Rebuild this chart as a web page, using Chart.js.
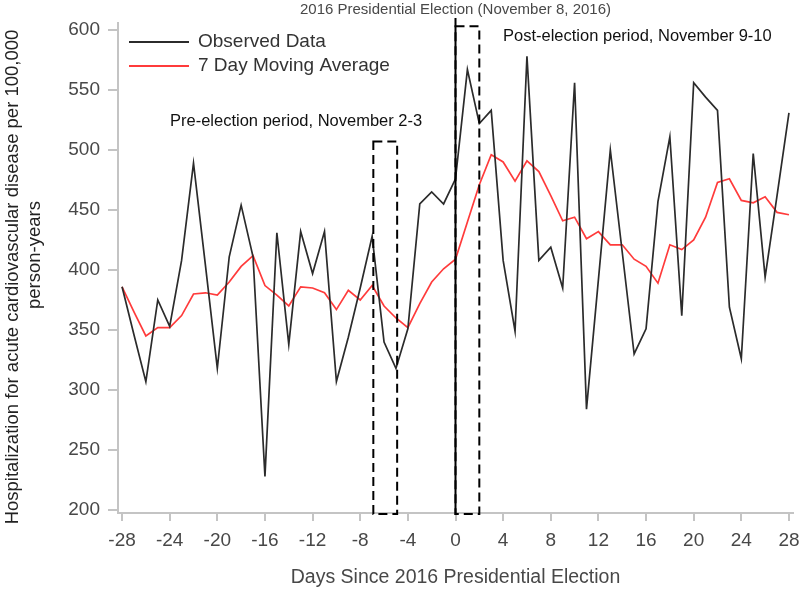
<!DOCTYPE html>
<html lang="en">
<head>
    <meta charset="UTF-8">
    <title>Election Hospitalizations</title>
    <script src="https://cdn.jsdelivr.net/npm/chart.js"></script>
    <style>
        body { margin: 0; background: #fff; }
        .chart-container { width: 800px; height: 590px; }
    </style>
</head>
<body>
    <div class="chart-container">
        <canvas id="electionChart" width="800" height="590"></canvas>
    </div>

<script>
    // data
    const days = [-28, -27, -26, -25, -24, -23, -22, -21, -20, -19, -18, -17, -16, -15, -14, -13, -12, -11, -10, -9,
        -8, -7, -6, -5, -4, -3, -2, -1, 0, 1, 2, 3, 4, 5, 6, 7, 8, 9, 10, 11, 12, 13, 14, 15, 16, 17, 18, 19, 20,
        21, 22, 23, 24, 25, 26, 27, 28];
    const observed = [386, 346, 307, 375, 353, 408, 489, 404, 318, 411, 454, 411, 228, 431, 338, 432, 397, 432, 307, 344,
        385, 428, 340, 318, 351, 455, 465, 455, 476, 567, 522, 533, 408, 349, 578, 408, 419, 385, 556, 284, 392, 500, 415, 330, 351, 457, 511, 362, 556,
        544, 533, 369, 326, 497, 394, 462, 531];
    const movingAvg = [386, 365, 345, 352, 352, 362, 380, 381, 379, 390, 403, 412, 387, 379, 370, 386, 385, 381, 367, 383,
        375, 387, 370, 360, 352, 372, 390, 401, 409, 440, 471, 496, 490, 474, 491, 482, 462, 441, 444, 426, 432, 421, 421, 409, 403, 389, 421, 417, 425,
        444, 473, 476, 458, 456, 461, 448, 446];

    const xTickValues = [-28, -24, -20, -16, -12, -8, -4, 0, 4, 8, 12, 16, 20, 24, 28];
    const yTickValues = [200, 250, 300, 350, 400, 450, 500, 550, 600];

    const seriesLabels = ['Observed Data', '7 Day Moving Average'];
    const seriesColors = ['#2b2b2b', '#ff3b3b'];

    const titleText = '2016 Presidential Election (November 8, 2016)';
    const xTitle = 'Days Since 2016 Presidential Election';
    const yTitle = ['Hospitalization for acute cardiovascular disease per 100,000', 'person-years'];
    const preText = 'Pre-election period, November 2-3';
    const postText = 'Post-election period, November 9-10';

    const FONT = '"Liberation Sans", Arial, sans-serif';
    const AXIS_GREY = '#c4c4c4';
    const TEXT_GREY = '#484848';

    function toPoints(values) {
        return days.map((d, i) => ({ x: d, y: values[i] }));
    }

    // vertical election line, dashed boxes, legend and titles
    const annotations = {
        id: 'annotations',
        afterDraw(chart) {
            const ctx = chart.ctx;
            const xs = chart.scales.x;
            const ys = chart.scales.y;
            const area = chart.chartArea;
            ctx.save();

            // dashed boxes
            ctx.strokeStyle = '#000';
            ctx.lineWidth = 2;
            ctx.setLineDash([9, 5]);
            const boxes = [[-6.9, -4.9, 507], [0, 2, 603]];
            boxes.forEach(b => {
                const l = xs.getPixelForValue(b[0]);
                const r = xs.getPixelForValue(b[1]);
                const t = ys.getPixelForValue(b[2]);
                ctx.strokeRect(l, t, r - l, area.bottom + 1 - t);
            });
            ctx.setLineDash([]);

            // election day line
            const x0 = xs.getPixelForValue(0);
            ctx.beginPath();
            ctx.moveTo(x0, 18);
            ctx.lineTo(x0, area.bottom + 2);
            ctx.stroke();

            // legend
            ctx.lineWidth = 2;
            ctx.font = '19px ' + FONT;
            ctx.textBaseline = 'middle';
            ctx.textAlign = 'left';
            seriesLabels.forEach((lab, i) => {
                const y = 42 + i * 24;
                ctx.strokeStyle = seriesColors[i];
                ctx.beginPath();
                ctx.moveTo(129, y);
                ctx.lineTo(189, y);
                ctx.stroke();
                ctx.fillStyle = '#333';
                ctx.fillText(lab, 198, y);
            });

            // annotation texts
            ctx.fillStyle = '#111';
            ctx.font = '16.5px ' + FONT;
            ctx.fillText(postText, 503, 36);
            ctx.fillText(preText, 170, 121);

            // title over the election line
            ctx.fillStyle = TEXT_GREY;
            ctx.font = '15px ' + FONT;
            ctx.textAlign = 'center';
            ctx.fillText(titleText, x0, 10);

            // axis titles
            ctx.font = '19.5px ' + FONT;
            ctx.fillText(xTitle, x0, 578);

            ctx.font = '18.5px ' + FONT;
            ctx.fillStyle = '#222';
            ctx.rotate(-Math.PI / 2);
            ctx.fillText(yTitle[0], -277, 13);
            ctx.fillText(yTitle[1], -255, 35);
            ctx.restore();
        }
    };

    const config = {
        type: 'line',
        data: {
            datasets: [{
                label: seriesLabels[0],
                data: toPoints(observed),
                borderColor: seriesColors[0],
                borderWidth: 1.7
            }, {
                label: seriesLabels[1],
                data: toPoints(movingAvg),
                borderColor: seriesColors[1],
                borderWidth: 1.7
            }]
        },
        options: {
            responsive: false,
            animation: false,
            layout: { padding: { top: 23, right: 7, left: 0, bottom: 0 } },
            elements: {
                point: { radius: 0 },
                line: { tension: 0 }
            },
            scales: {
                x: {
                    type: 'linear',
                    min: -28.34,
                    max: 28.34,
                    afterBuildTicks: s => { s.ticks = xTickValues.map(v => ({ value: v })); },
                    afterFit: s => { s.height = 77; s.paddingLeft = 0; s.paddingRight = 0; },
                    grid: { drawOnChartArea: false, color: AXIS_GREY, tickLength: 8, lineWidth: 2 },
                    border: { color: AXIS_GREY, width: 2 },
                    ticks: { color: TEXT_GREY, padding: 8, font: { size: 19, family: FONT }, maxRotation: 0 }
                },
                y: {
                    min: 197.5,
                    max: 605.8,
                    afterBuildTicks: s => { s.ticks = yTickValues.map(v => ({ value: v })); },
                    afterFit: s => { s.width = 118; s.paddingTop = 0; s.paddingBottom = 0; },
                    grid: { drawOnChartArea: false, color: AXIS_GREY, tickLength: 10, lineWidth: 2 },
                    border: { color: AXIS_GREY, width: 2 },
                    ticks: { color: TEXT_GREY, padding: 8, font: { size: 19, family: FONT } }
                }
            },
            plugins: {
                legend: { display: false },
                tooltip: { enabled: false }
            }
        },
        plugins: [annotations]
    };

    const ctx = document.getElementById('electionChart').getContext('2d');
    new Chart(ctx, config);
</script>
</body>
</html>
